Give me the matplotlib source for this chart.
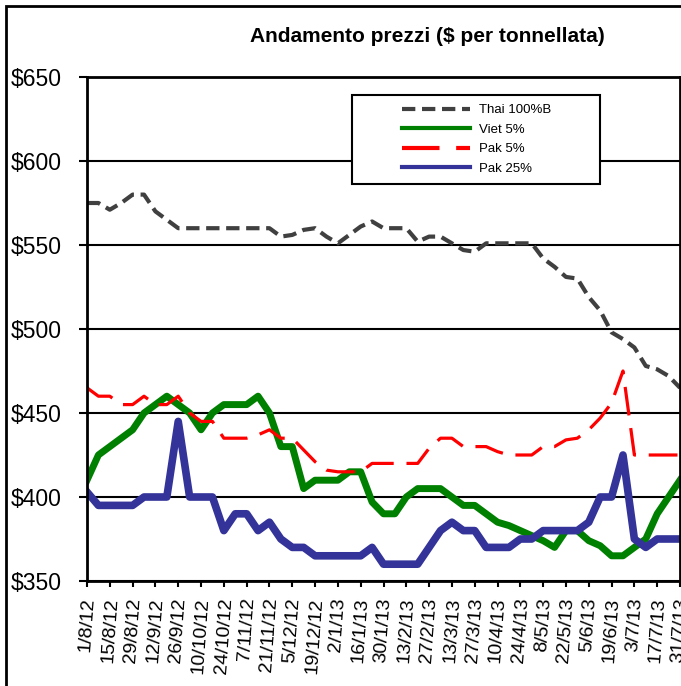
import matplotlib
matplotlib.use('Agg')
import matplotlib.pyplot as plt
import matplotlib.patches as patches
import pandas as pd

# weekly quotes, 1/8/12 .. 31/7/13
dates = pd.date_range('2012-08-01', periods=53, freq='7D')
tick_labels = ['1/8/12', '15/8/12', '29/8/12', '12/9/12', '26/9/12', '10/10/12',
               '24/10/12', '7/11/12', '21/11/12', '5/12/12', '19/12/12', '2/1/13',
               '16/1/13', '30/1/13', '13/2/13', '27/2/13', '13/3/13', '27/3/13',
               '10/4/13', '24/4/13', '8/5/13', '22/5/13', '5/6/13', '19/6/13',
               '3/7/13', '17/7/13', '31/7/13']

thai = [575, 575, 571, 575, 580, 580, 570, 565, 560, 560,
        560, 560, 560, 560, 560, 560, 560, 555, 556, 559,
        560, 555, 551, 556, 561, 564, 560, 560, 560, 552,
        555, 555, 551, 547, 546, 551, 551, 551, 551, 551,
        542, 537, 531, 530, 519, 511, 498, 494, 489, 478,
        476, 472, 465]
viet = [410, 425, 430, 435, 440, 450, 455, 460, 455, 450,
        440, 450, 455, 455, 455, 460, 450, 430, 430, 405,
        410, 410, 410, 415, 415, 397, 390, 390, 400, 405,
        405, 405, 400, 395, 395, 390, 385, 383, 380, 377,
        374, 370, 380, 380, 374, 371, 365, 365, 370, 375,
        390, 400, 410]
pak5 = [465, 460, 460, 455, 455, 460, 455, 455, 460, 450,
        445, 445, 435, 435, 435, 437, 440, 435, 435, 428,
        421, 416, 415, 415, 415, 420, 420, 420, 420, 420,
        429, 435, 435, 430, 430, 430, 427, 425, 425, 425,
        430, 430, 434, 435, 440, 447, 456, 475, 425, 425,
        425, 425, 425]
pak25 = [403, 395, 395, 395, 395, 400, 400, 400, 445, 400,
         400, 400, 380, 390, 390, 380, 385, 375, 370, 370,
         365, 365, 365, 365, 365, 370, 360, 360, 360, 360,
         370, 380, 385, 380, 380, 370, 370, 370, 375, 375,
         380, 380, 380, 380, 385, 400, 400, 425, 375, 370,
         375, 375, 375]

FONT = ['Liberation Sans', 'DejaVu Sans']
NARROW = ['Liberation Sans Narrow', 'Liberation Sans', 'DejaVu Sans']

fig = plt.figure(figsize=(6.81, 6.86), dpi=100)
ax = fig.add_axes([87/681, 105/686, 593/681, 504/686])

ax.plot(dates, thai, color='#404040', lw=3, linestyle=(0, (3.2, 1.6)), label='Thai 100%B')
ax.plot(dates, viet, color='#008000', lw=5, solid_joinstyle='round', label='Viet 5%')
ax.plot(dates, pak5, color='#FF0000', lw=2.3, linestyle=(0, (9, 4)), label='Pak 5%')
ax.plot(dates, pak25, color='#333399', lw=5.5, solid_joinstyle='round', label='Pak 25%')

ax.set_xlim(dates[0], dates[-1])
ax.set_ylim(350, 650)
ax.set_yticks(range(350, 651, 50))
ax.set_yticklabels(['$%d' % v for v in range(350, 651, 50)], family=FONT, fontsize=16.5)
ax.set_xticks(dates[::2])
ax.set_xticklabels(tick_labels, rotation=86, family=FONT, fontsize=14)
ax.tick_params(axis='y', direction='out', length=6, width=1.5, pad=12)
ax.tick_params(axis='x', direction='out', length=4.5, width=1.5, pad=7)
ax.yaxis.grid(True, color='black', lw=1.5)
ax.set_axisbelow(True)
for s in ax.spines.values():
    s.set_linewidth(2)

# legend box (wide frame around centred entries)
ax.add_patch(patches.Rectangle((0.447, 0.788), 0.418, 0.176, transform=ax.transAxes,
                               facecolor='white', edgecolor='black', lw=1.5, zorder=4))
leg = ax.legend(loc='center', bbox_to_anchor=(0.657, 0.876), frameon=False,
                prop={'family': FONT, 'size': 9.5}, handlelength=5.2,
                handletextpad=0.7, labelspacing=0.55)
leg.set_zorder(5)
for h in leg.get_lines():
    h.set_linewidth(3)

fig.text(427/681, 1 - 37/686, 'Andamento prezzi ($ per tonnellata)', ha='center', va='center',
         family=NARROW, fontsize=15, weight='bold')

# outer frame of the chart area
fig.patches.append(patches.Rectangle((6/681, -0.05), 1.1, 1 - 6/686 + 0.05,
                                     transform=fig.transFigure, fill=False,
                                     edgecolor='black', lw=2))

fig.savefig('out.png', dpi=100)
